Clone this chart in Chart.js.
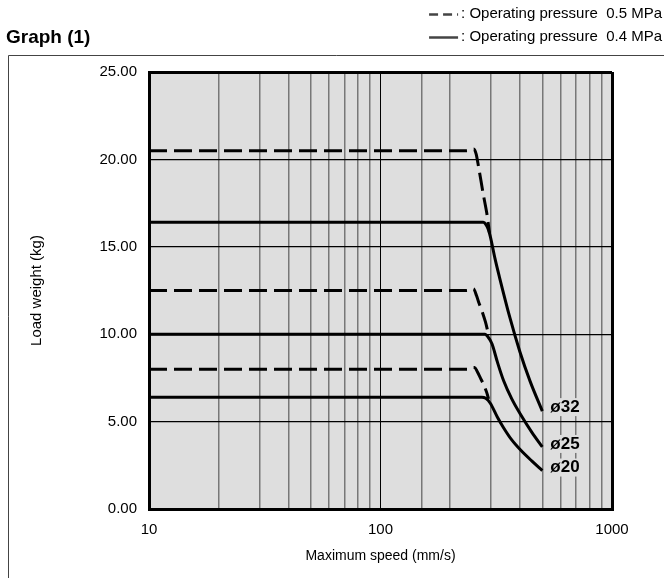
<!DOCTYPE html>
<html>
<head>
<meta charset="utf-8">
<script src="https://cdn.jsdelivr.net/npm/chart.js@4"></script>
<style>
  body { margin: 0; background: #fff; }
  #wrapper { width: 664px; height: 578px; }
</style>
</head>
<body>
<div id="wrapper"><canvas id="Scheme" width="664" height="578"></canvas></div>
<script>
// values (speed mm/s, load kg)
const d32Speed = [10, 236, 247, 253, 259, 265, 278, 288, 296];
const d32Load = [20.5, 20.5, 20.6, 20.6, 20.3, 19.6, 18.0, 16.9, 15.75];
const s32Speed = [10, 278, 286, 292, 298, 312, 326, 363, 400, 443, 500];
const s32Load = [16.4, 16.4, 16.25, 16.0, 15.6, 14.35, 13.3, 10.9, 9.0, 7.3, 5.6];

const d25Speed = [10, 236, 246, 252, 260, 266, 274, 284, 292];
const d25Load = [12.5, 12.5, 12.6, 12.6, 12.2, 11.8, 11.35, 10.7, 10.05];
const s25Speed = [10, 283, 290, 303, 320, 340, 369, 401, 450, 500];
const s25Load = [10.0, 10.0, 9.88, 9.45, 8.4, 7.35, 6.3, 5.45, 4.4, 3.55];

const d20Speed = [10, 240, 249, 255, 262, 270, 278, 287, 293];
const d20Load = [8.0, 8.0, 8.1, 8.1, 7.85, 7.5, 7.15, 6.7, 6.3];
const s20Speed = [10, 274, 285, 298, 320, 340, 369, 401, 450, 500];
const s20Load = [6.4, 6.4, 6.33, 6.05, 5.25, 4.65, 3.95, 3.4, 2.75, 2.2];

const sizes = ['ø32', 'ø25', 'ø20'];
const legendTexts = [': Operating pressure  0.5 MPa', ': Operating pressure  0.4 MPa'];
const yTicks = [0, 5, 10, 15, 20, 25];
const xLabels = [10, 100, 1000];

const FONT = '"Liberation Sans", Arial, sans-serif';
const DASH = [18, 7];

function pts(xs, ys) {
    return xs.map(function (x, i) { return {x: x, y: ys[i]}; });
}

function line(xs, ys, dashed) {
    return {
        data: pts(xs, ys),
        borderColor: '#000',
        borderWidth: 3,
        borderDash: dashed ? DASH : [],
        pointRadius: 0,
        fill: false,
        cubicInterpolationMode: 'monotone'
    };
}

function isDecade(v) {
    let l = Math.log10(v);
    return Math.abs(l - Math.round(l)) < 1e-6;
}

const decor = {
    id: 'decor',
    beforeDraw: function (chart) {
        const c = chart.ctx, a = chart.chartArea;
        c.save();
        c.fillStyle = '#fff';
        c.fillRect(0, 0, chart.width, chart.height);
        c.fillStyle = '#dedede';
        c.fillRect(a.left, a.top, a.right - a.left, a.bottom - a.top);
        // outer frame
        c.strokeStyle = '#444';
        c.lineWidth = 1;
        c.beginPath();
        c.moveTo(8.5, 578);
        c.lineTo(8.5, 55.5);
        c.lineTo(664, 55.5);
        c.stroke();
        // heading
        c.fillStyle = '#000';
        c.font = 'bold 19px ' + FONT;
        c.textBaseline = 'middle';
        c.textAlign = 'left';
        c.fillText('Graph (1)', 6, 38);
        // legend
        c.font = '15px ' + FONT;
        c.textAlign = 'right';
        [14, 37].forEach(function (y, i) {
            c.fillText(legendTexts[i], 662, y);
            let w = c.measureText(legendTexts[i]).width;
            c.lineWidth = 2.5;
            c.setLineDash(i === 0 ? [9, 5] : []);
            c.beginPath();
            c.moveTo(662 - w - 32, y + 0.5);
            c.lineTo(662 - w - 3, y + 0.5);
            c.stroke();
        });
        c.setLineDash([]);
        c.restore();
    },
    afterDatasetsDraw: function (chart) {
        const c = chart.ctx, xs = chart.scales.x, ys = chart.scales.y;
        const ends = [s32Load, s25Load, s20Load];
        const endX = [s32Speed, s25Speed, s20Speed];
        c.save();
        c.font = 'bold 17px ' + FONT;
        c.textBaseline = 'middle';
        c.textAlign = 'left';
        sizes.forEach(function (s, i) {
            let x = xs.getPixelForValue(endX[i][endX[i].length - 1]) + 8;
            let y = ys.getPixelForValue(ends[i][ends[i].length - 1]) - (i === 0 ? 4 : 3);
            let w = c.measureText(s).width;
            c.fillStyle = '#dedede';
            c.fillRect(x - 1, y - 9, w + 2, 18);
            c.fillStyle = '#000';
            c.fillText(s, x, y);
        });
        c.restore();
    }
};

new Chart(document.getElementById('Scheme').getContext('2d'), {
    type: 'line',
    data: {
        datasets: [
            line(d32Speed, d32Load, true),
            line(s32Speed, s32Load, false),
            line(d25Speed, d25Load, true),
            line(s25Speed, s25Load, false),
            line(d20Speed, d20Load, true),
            line(s20Speed, s20Load, false)
        ]
    },
    options: {
        responsive: false,
        animation: false,
        devicePixelRatio: 1,
        layout: {padding: {top: 72, right: 52, left: 0, bottom: 0}},
        plugins: {legend: {display: false}, title: {display: false}, tooltip: {enabled: false}},
        scales: {
            x: {
                type: 'logarithmic',
                min: 10,
                max: 1000,
                afterFit: function (s) { s.height = 69; },
                border: {display: true, color: '#000', width: 3},
                grid: {
                    drawTicks: false,
                    color: function (ctx) { return isDecade(ctx.tick.value) ? '#000' : '#777'; },
                    lineWidth: function (ctx) {
                        let v = ctx.tick.value;
                        if (v === 10 || v === 1000) return 3;
                        return isDecade(v) ? 1 : 1.5;
                    }
                },
                ticks: {
                    autoSkip: false,
                    maxRotation: 0,
                    padding: 12,
                    color: '#000',
                    font: {family: FONT, size: 15},
                    callback: function (v) { return xLabels.indexOf(v) >= 0 ? String(v) : ''; }
                },
                title: {
                    display: true,
                    text: 'Maximum speed (mm/s)',
                    color: '#000',
                    font: {family: FONT, size: 14},
                    padding: {top: 0, bottom: 13}
                }
            },
            y: {
                min: 0,
                max: 25,
                afterFit: function (s) { s.width = 149; },
                afterBuildTicks: function (s) { s.ticks = yTicks.map(function (v) { return {value: v}; }); },
                border: {display: true, color: '#000', width: 3},
                grid: {
                    drawTicks: false,
                    color: '#000',
                    lineWidth: function (ctx) {
                        let v = ctx.tick.value;
                        return (v === 25 || v === 0) ? 3 : 1.2;
                    }
                },
                ticks: {
                    padding: 12,
                    color: '#000',
                    font: {family: FONT, size: 15},
                    callback: function (v) { return v.toFixed(2); }
                },
                title: {
                    display: true,
                    text: 'Load weight (kg)',
                    color: '#000',
                    font: {family: FONT, size: 15},
                    padding: {top: 28, bottom: 0}
                }
            }
        }
    },
    plugins: [decor]
});
</script>
</body>
</html>
